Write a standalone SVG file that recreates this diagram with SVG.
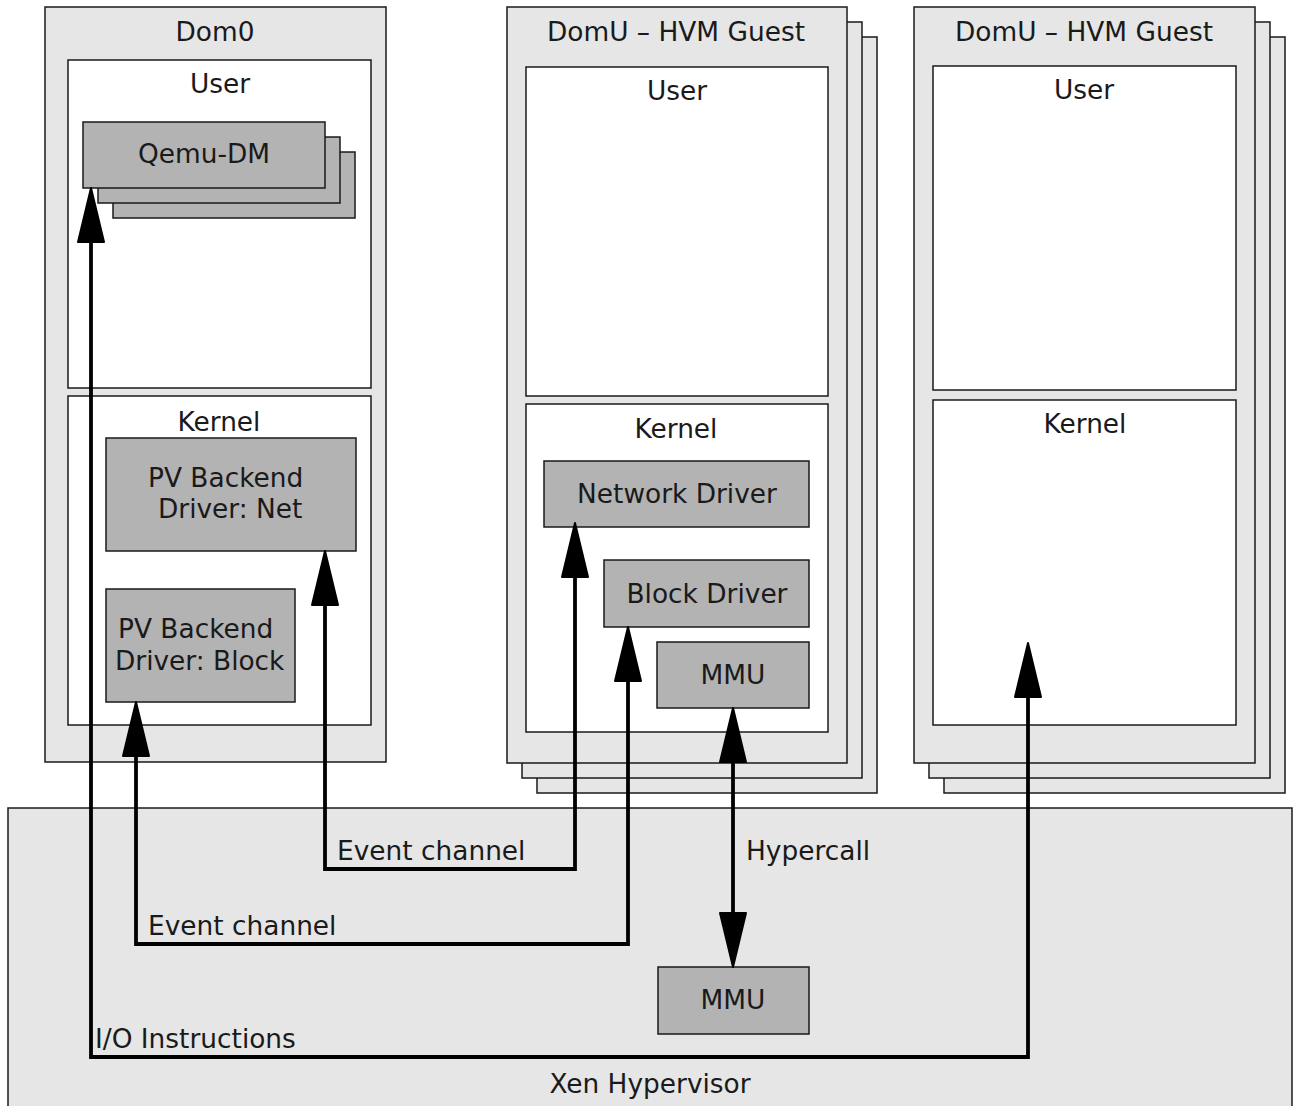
<svg xmlns="http://www.w3.org/2000/svg" width="1296" height="1106" viewBox="0 0 1296 1106">
<style>
.dom{fill:#e6e6e6;stroke:#1a1a1a;stroke-width:1.5}
.area{fill:#ffffff;stroke:#1a1a1a;stroke-width:1.5}
.comp{fill:#b3b3b3;stroke:#1a1a1a;stroke-width:1.5}
text{font-family:"DejaVu Sans",sans-serif;font-size:26.4px;fill:#1a1a1a}
.c{text-anchor:middle}
.conn{fill:none;stroke:#000;stroke-width:3.8;stroke-linejoin:miter}
</style>
<defs>
<marker id="ah" markerUnits="userSpaceOnUse" markerWidth="80" markerHeight="40" refX="0" refY="0" orient="auto-start-reverse" overflow="visible">
<path d="M0,-13 L54,0 L0,13 z" fill="#000" stroke="#000" stroke-width="2" stroke-linejoin="round"/>
</marker>
</defs>

<g id="xen">
<rect class="dom" x="8" y="808" width="1284" height="310"/>
<text class="c" x="650" y="1093">Xen Hypervisor</text>
</g>
<g id="xen-mmu">
<rect class="comp" x="658" y="967" width="151" height="67"/>
<text class="c" x="733" y="1009">MMU</text>
</g>

<g id="dom0">
<rect class="dom" x="45" y="7" width="341" height="755"/>
<text class="c" x="215" y="41">Dom0</text>
</g>
<g id="dom0-user">
<rect class="area" x="68" y="60" width="303" height="328"/>
<text class="c" x="220" y="93">User</text>
</g>
<g id="qemu-dm">
<rect class="comp" x="113" y="152" width="242" height="66"/>
<rect class="comp" x="98" y="137" width="242" height="66"/>
<rect class="comp" x="83" y="122" width="242" height="66"/>
<text class="c" x="204" y="163">Qemu-DM</text>
</g>
<g id="dom0-kernel">
<rect class="area" x="68" y="396" width="303" height="329"/>
<text class="c" x="219" y="431">Kernel</text>
</g>
<g id="pv-net">
<rect class="comp" x="106" y="438" width="250" height="113"/>
<text x="148" y="487">PV Backend</text>
<text x="158" y="518">Driver: Net</text>
</g>
<g id="pv-block">
<rect class="comp" x="106" y="589" width="189" height="113"/>
<text x="118" y="638">PV Backend</text>
<text x="115" y="670">Driver: Block</text>
</g>

<g id="domu1">
<rect class="dom" x="537" y="37" width="340" height="756"/>
<rect class="dom" x="522" y="22" width="340" height="756"/>
<rect class="dom" x="507" y="7" width="340" height="756"/>
<text class="c" x="676" y="41">DomU – HVM Guest</text>
</g>
<g id="domu1-user">
<rect class="area" x="526" y="67" width="302" height="329"/>
<text class="c" x="677" y="100">User</text>
</g>
<g id="domu1-kernel">
<rect class="area" x="526" y="404" width="302" height="328"/>
<text class="c" x="676" y="438">Kernel</text>
</g>
<g id="net-driver">
<rect class="comp" x="544" y="461" width="265" height="66"/>
<text class="c" x="677" y="503">Network Driver</text>
</g>
<g id="block-driver">
<rect class="comp" x="604" y="560" width="205" height="67"/>
<text class="c" x="707" y="603">Block Driver</text>
</g>
<g id="domu-mmu">
<rect class="comp" x="657" y="642" width="152" height="66"/>
<text class="c" x="733" y="684">MMU</text>
</g>

<g id="domu2">
<rect class="dom" x="944" y="37" width="341" height="756"/>
<rect class="dom" x="929" y="22" width="341" height="756"/>
<rect class="dom" x="914" y="7" width="341" height="756"/>
<text class="c" x="1084" y="41">DomU – HVM Guest</text>
</g>
<g id="domu2-user">
<rect class="area" x="933" y="66" width="303" height="324"/>
<text class="c" x="1084" y="99">User</text>
</g>
<g id="domu2-kernel">
<rect class="area" x="933" y="400" width="303" height="325"/>
<text class="c" x="1085" y="433">Kernel</text>
</g>

<g id="connectors">
<path class="conn" d="M91,242 V1057 H1028 V697" marker-start="url(#ah)" marker-end="url(#ah)"/>
<path class="conn" d="M136,756 V944 H628 V681" marker-start="url(#ah)" marker-end="url(#ah)"/>
<path class="conn" d="M325,605 V869 H575 V577" marker-start="url(#ah)" marker-end="url(#ah)"/>
<path class="conn" d="M733,762 V913" marker-start="url(#ah)" marker-end="url(#ah)"/>
<text x="337" y="860">Event channel</text>
<text x="148" y="935">Event channel</text>
<text x="746" y="860">Hypercall</text>
<text x="95" y="1048">I/O Instructions</text>
</g>
</svg>
